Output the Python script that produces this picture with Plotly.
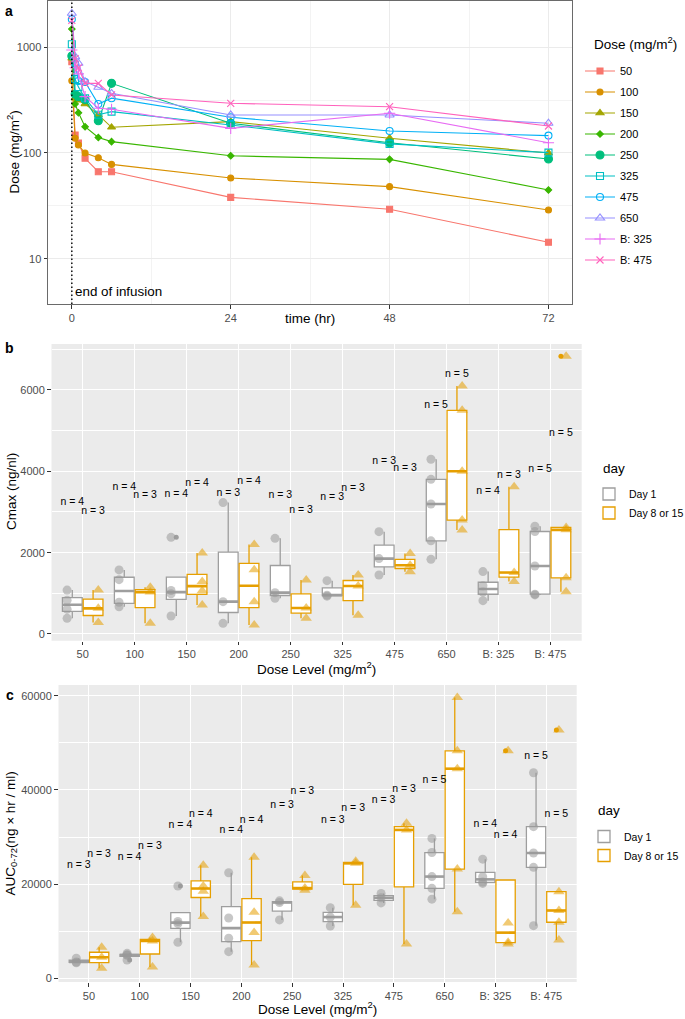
import numpy as np
import plotly.graph_objects as go

# ---------------- data ----------------
dose_levels = ["50", "100", "150", "200", "250", "325", "475", "650", "B: 325", "B: 475"]
times_hr = [0, 0.5, 1, 2, 4, 6, 24, 48, 72]

conc_50 = [731, 148, 124, 89, 66.5, 66.5, 38, 29.3, 14.3]
conc_100 = [483, 138, 119, 100, 90, 78, 58, 48, 28.9]
conc_150 = [787, 330, 316, 291, 229, 175, 198, 138, 100]
conc_200 = [1490, 291, 240, 177, 140, 128, 94, 87, 44.7]
conc_250 = [828, 360, 341, 320, 202, 456, 191, 125, 87.7]
conc_325 = [1067, 500, 420, 330, 230, 246, 184, 122, 100.7]
conc_475 = [1842, 700, 480, 470, 291, 330, 218, 161.5, 146]
conc_650 = [2098, 815, 706, 473, 419, 367, 229, 229, 191]
conc_b325 = [943, 640, 560, 341, 265, 259, 171, 238, 125]
conc_b475 = [1800, 780, 640, 456, 456, 354, 295, 274, 180]

cmax_day1 = [
    [385, 610, 830, 1080],
    [670, 780, 1335, 1575],
    [443, 990, 1070, 2377],
    [262, 795, 3230],
    [877, 1016, 2352],
    [930, 955, 1312],
    [1451, 1853, 2516],
    [1836, 2290, 3197, 3803, 4295],
    [820, 1030, 1185, 1535],
    [960, 980, 1672, 2520, 2650],
]
cmax_day8 = [
    [280, 630, 1082],
    [262, 1030, 1150],
    [713, 1062, 1290, 1990],
    [220, 790, 1580, 2200],
    [385, 640, 1330],
    [460, 1180, 1450],
    [1530, 1690, 1980],
    [2558, 2800, 4000, 5500, 6099],
    [1290, 1510, 3620],
    [1040, 1380, 2560, 2620, 6830],
]
cmax_label_y_day1 = [3229, 3607, 3435, 3459, 3401, 3361, 4254, 5631, 3499, 4049]
cmax_label_y_day8 = [3007, 3418, 3705, 3745, 3049, 3582, 4074, 6386, 3893, 4935]

auc_day1 = [
    [3300, 3450, 4250],
    [3880, 4900, 5000, 5300],
    [7640, 11600, 12050, 19600],
    [5660, 8500, 12800, 22400],
    [12400, 16100, 16450],
    [11100, 13000, 15000],
    [16000, 17100, 18000],
    [16800, 19100, 21600, 26700, 29700],
    [20150, 20450, 21550, 25300],
    [11180, 23560, 26600, 32200, 43650],
]
auc_day8 = [
    [2160, 4460, 6600],
    [2400, 7920, 8640],
    [13100, 18500, 19600, 24000],
    [2830, 9700, 14000, 25700],
    [18700, 19150, 21800],
    [15500, 24400, 24850],
    [7300, 31500, 32900],
    [14150, 23200, 44500, 48300, 59600],
    [7290, 7670, 11720, 48300],
    [8140, 11900, 14400, 18400, 52700],
]
auc_label_y_day1 = [23914, 25682, 32404, 31342, 36790, 33465, 37851, 42096, 32687, 47190]
auc_label_y_day8 = [26319, 27946, 34880, 33465, 39620, 36083, 40115, None, 30281, 34880]

# ---------------- styles ----------------
W, H = 685, 1019
FONT = "Liberation Sans, Arial, Helvetica, sans-serif"
series_conc = [conc_50, conc_100, conc_150, conc_200, conc_250, conc_325,
               conc_475, conc_650, conc_b325, conc_b475]
colors_a = ["#F8766D", "#D89000", "#A3A500", "#39B600", "#00BF7D",
            "#00BFC4", "#00B0F6", "#9590FF", "#E76BF3", "#FF62BC"]
symbols_a = ["square", "circle", "triangle-up", "diamond", "circle",
             "square-open", "circle-open", "triangle-up-open", "cross-thin-open", "x-thin-open"]
sizes_a = [6, 6, 7, 5, 8, 7, 7, 8, 8, 7]

GREY = "#9E9E9E"
ORANGE = "#E69F00"
GREY_PT = "rgba(153,153,153,0.55)"
ORANGE_PT = "rgba(230,159,0,0.55)"


def px_x(p):
    return p / W


def px_y(p):
    return 1 - p / H


fig = go.Figure()

# ---------------- panel a ----------------
for name, vals, col, sym, sz in zip(dose_levels, series_conc, colors_a, symbols_a, sizes_a):
    fig.add_trace(go.Scatter(
        x=times_hr, y=vals, mode="lines+markers", name=name,
        legendgroup=name, legend="legend",
        line=dict(color=col, width=1.1),
        marker=dict(symbol=sym, size=sz, color=col, line=dict(color=col, width=1.1)),
        xaxis="x", yaxis="y", hoverinfo="skip"))


# ---------------- panels b, c ----------------
def box_stats(vals):
    arr = np.sort(np.asarray(vals, dtype=float))
    q1, med, q3 = np.percentile(arr, [25, 50, 75])
    iqr = q3 - q1
    lo_f, hi_f = q1 - 1.5 * iqr, q3 + 1.5 * iqr
    inside = arr[(arr >= lo_f) & (arr <= hi_f)]
    lo = min(inside.min(), q1)
    hi = max(inside.max(), q3)
    outl = arr[(arr < lo_f) | (arr > hi_f)]
    return q1, med, q3, lo, hi, outl


def add_box_panel(d1, d8, ly1, ly8, xa, ya, legname, pt_off):
    for day, data, lcol, pcol, off, psym, psize, ly in [
        ("Day 1", d1, GREY, GREY_PT, -0.2, "circle", 9, ly1),
        ("Day 8 or 15", d8, ORANGE, ORANGE_PT, 0.2, "triangle-up", 10, ly8),
    ]:
        pos = [i + 1 + off for i in range(len(data))]
        stats = [box_stats(v) for v in data]
        fig.add_trace(go.Box(
            x=pos,
            q1=[s[0] for s in stats], median=[s[1] for s in stats], q3=[s[2] for s in stats],
            lowerfence=[s[3] for s in stats], upperfence=[s[4] for s in stats],
            width=0.38, whiskerwidth=0, boxpoints=False,
            fillcolor="white", line=dict(color=lcol, width=1.3),
            name=day, legend=legname, showlegend=True,
            xaxis=xa, yaxis=ya, hoverinfo="skip"))
        # thick median line
        mx, my = [], []
        for p, s in zip(pos, stats):
            mx += [p - 0.19, p + 0.19, None]
            my += [s[1], s[1], None]
        fig.add_trace(go.Scatter(x=mx, y=my, mode="lines", line=dict(color=lcol, width=2.6),
                                 showlegend=False, xaxis=xa, yaxis=ya, hoverinfo="skip"))
        # outlier dots
        ox, oy = [], []
        for p, s in zip(pos, stats):
            for o in s[5]:
                ox.append(p)
                oy.append(o)
        if ox:
            fig.add_trace(go.Scatter(x=ox, y=oy, mode="markers",
                                     marker=dict(size=5, color=lcol),
                                     showlegend=False, xaxis=xa, yaxis=ya, hoverinfo="skip"))
        # individual points
        sign = -1 if off < 0 else 1
        px, py = [], []
        for i, v in enumerate(data):
            for val in v:
                px.append(i + 1 + sign * pt_off)
                py.append(val)
        fig.add_trace(go.Scatter(x=px, y=py, mode="markers",
                                 marker=dict(symbol=psym, size=psize, color=pcol),
                                 showlegend=False, xaxis=xa, yaxis=ya, hoverinfo="skip"))
        # n labels
        tx, tyv, tt = [], [], []
        for i, (v, yy) in enumerate(zip(data, ly)):
            if yy is None:
                continue
            tx.append(i + 1 + off)
            tyv.append(yy)
            tt.append("n = %d" % len(v))
        fig.add_trace(go.Scatter(x=tx, y=tyv, mode="text", text=tt,
                                 textfont=dict(size=10.5, color="black", family=FONT),
                                 showlegend=False, xaxis=xa, yaxis=ya, hoverinfo="skip"))


add_box_panel(cmax_day1, cmax_day8, cmax_label_y_day1, cmax_label_y_day8, "x2", "y2", "legend2", 0.3)
add_box_panel(auc_day1, auc_day8, auc_label_y_day1, auc_label_y_day8, "x3", "y3", "legend3", 0.25)

# ---------------- layout ----------------
tickfont = dict(size=11, color="#4D4D4D", family=FONT)

a_dom_x = [px_x(48), px_x(572.3)]
a_dom_y = [px_y(304), px_y(1)]
b_dom_x = [px_x(51.5), px_x(581.7)]
b_dom_y = [px_y(640.7), px_y(344)]
c_dom_x = [px_x(58.5), px_x(576.7)]
c_dom_y = [px_y(982), px_y(685)]

common_cat_x = dict(range=[0.4, 10.6], tickmode="array", tickvals=list(range(1, 11)),
                    ticktext=dose_levels, showgrid=True, gridcolor="white", gridwidth=1.1,
                    zeroline=False, ticks="outside", ticklen=3.5, tickcolor="#333333",
                    tickwidth=1, tickfont=tickfont, showline=False)

fig.update_layout(
    width=W, height=H, margin=dict(l=0, r=0, t=0, b=0, autoexpand=False),
    paper_bgcolor="white", plot_bgcolor="white",
    font=dict(family=FONT, color="black"),
    showlegend=True,
    xaxis=dict(domain=a_dom_x, anchor="y", range=[-3.6, 75.6], tickmode="array",
               tickvals=[0, 24, 48, 72], showgrid=True, gridcolor="#EBEBEB", gridwidth=1,
               minor=dict(tickmode="array", tickvals=[12, 36, 60], showgrid=True,
                          gridcolor="#F3F3F3", gridwidth=0.6, ticks=""),
               zeroline=False, ticks="outside", ticklen=3.5, tickcolor="#333333",
               tickfont=tickfont, showline=True, mirror=True, linecolor="#6a6a6a", linewidth=1),
    yaxis=dict(domain=a_dom_y, anchor="x", type="log", range=[0.571, 3.438],
               tickmode="array", tickvals=[10, 100, 1000], ticktext=["10", "100", "1000"],
               showgrid=True, gridcolor="#EBEBEB", gridwidth=1,
               minor=dict(tickmode="array", tickvals=[10 ** 0.5, 10 ** 1.5, 10 ** 2.5, 10 ** 3.5],
                          showgrid=True, gridcolor="#F3F3F3", gridwidth=0.6, ticks=""),
               zeroline=False, ticks="outside", ticklen=3.5, tickcolor="#333333",
               tickfont=tickfont, showline=True, mirror=True, linecolor="#6a6a6a", linewidth=1),
    xaxis2=dict(domain=b_dom_x, anchor="y2", **common_cat_x),
    yaxis2=dict(domain=b_dom_y, anchor="x2", range=[-165, 7130], tick0=0, dtick=2000,
                tickformat="d",
                showgrid=True, gridcolor="white", gridwidth=1.1,
                minor=dict(tick0=1000, dtick=2000, showgrid=True, gridcolor="white",
                           gridwidth=0.55, ticks=""),
                zeroline=False, ticks="outside", ticklen=3.5, tickcolor="#333333",
                tickfont=tickfont, showline=False),
    xaxis3=dict(domain=c_dom_x, anchor="y3", **common_cat_x),
    yaxis3=dict(domain=c_dom_y, anchor="x3", range=[-785, 62270], tick0=0, dtick=20000,
                tickformat="d",
                showgrid=True, gridcolor="white", gridwidth=1.1,
                minor=dict(tick0=10000, dtick=20000, showgrid=True, gridcolor="white",
                           gridwidth=0.55, ticks=""),
                zeroline=False, ticks="outside", ticklen=3.5, tickcolor="#333333",
                tickfont=tickfont, showline=False),
    legend=dict(x=px_x(580), xanchor="left", y=px_y(56.5), yanchor="top",
                font=dict(size=11, family=FONT, color="black"),
                traceorder="grouped", tracegroupgap=2, itemwidth=30,
                bgcolor="rgba(0,0,0,0)"),
    legend2=dict(x=px_x(589), xanchor="left", y=px_y(479.5), yanchor="top",
                 font=dict(size=10.5, family=FONT, color="black"),
                 tracegroupgap=2, itemwidth=30, bgcolor="rgba(0,0,0,0)"),
    legend3=dict(x=px_x(584), xanchor="left", y=px_y(822), yanchor="top",
                 font=dict(size=10.5, family=FONT, color="black"),
                 tracegroupgap=2, itemwidth=30, bgcolor="rgba(0,0,0,0)"),
)

# grey panel backgrounds (below gridlines)
for xa, ya in [("x2", "y2"), ("x3", "y3")]:
    fig.add_shape(type="rect", xref=xa + " domain", yref=ya + " domain",
                  x0=0, x1=1, y0=0, y1=1, fillcolor="#EBEBEB", line=dict(width=0), layer="below")

# end of infusion line
fig.add_shape(type="line", xref="x", yref="y domain", x0=0, x1=0, y0=0, y1=1,
              line=dict(color="black", width=1.4, dash="1.5px,2.5px"))
fig.add_annotation(x=0, y=0.69, xref="x", yref="y", text="end of infusion", showarrow=False,
                   xanchor="left", yanchor="middle", xshift=1,
                   font=dict(size=13.4, family=FONT, color="black"))

# axis titles, legend titles and panel tags
title_font = dict(size=13.5, family=FONT, color="black")
annots = [
    dict(x=px_x(13), y=px_y(152.5), text="Dose (mg/m<sup>2</sup>)", textangle=-90),
    dict(x=px_x(310), y=px_y(318), text="time (hr)"),
    dict(x=px_x(12), y=px_y(492), text="Cmax (ng/nl)", textangle=-90),
    dict(x=px_x(316.6), y=px_y(668), text="Dose Level (mg/m<sup>2</sup>)"),
    dict(x=px_x(11), y=px_y(833.5), text="AUC<sub>0-72</sub>(ng \u00d7 hr / ml)", textangle=-90),
    dict(x=px_x(317.6), y=px_y(1008), text="Dose Level (mg/m<sup>2</sup>)"),
]
for a in annots:
    fig.add_annotation(xref="paper", yref="paper", showarrow=False,
                       xanchor="center", yanchor="middle", font=title_font, **a)
for txt, xx, yy in [("Dose (mg/m<sup>2</sup>)", 592, 43), ("day", 601, 468), ("day", 596, 810)]:
    fig.add_annotation(xref="paper", yref="paper", x=px_x(xx), y=px_y(yy), text=txt,
                       showarrow=False, xanchor="left", yanchor="middle", font=title_font)
for tag, xx, yy in [("a", 9, 11), ("b", 9, 348), ("c", 10, 695)]:
    fig.add_annotation(xref="paper", yref="paper", x=px_x(xx), y=px_y(yy), text="<b>%s</b>" % tag,
                       showarrow=False, xanchor="center", yanchor="middle",
                       font=dict(size=14, family=FONT, color="black"))

fig.write_html("out.html", config={"displayModeBar": False},
               post_script="document.body.style.margin='0px';document.body.style.padding='0px';")
